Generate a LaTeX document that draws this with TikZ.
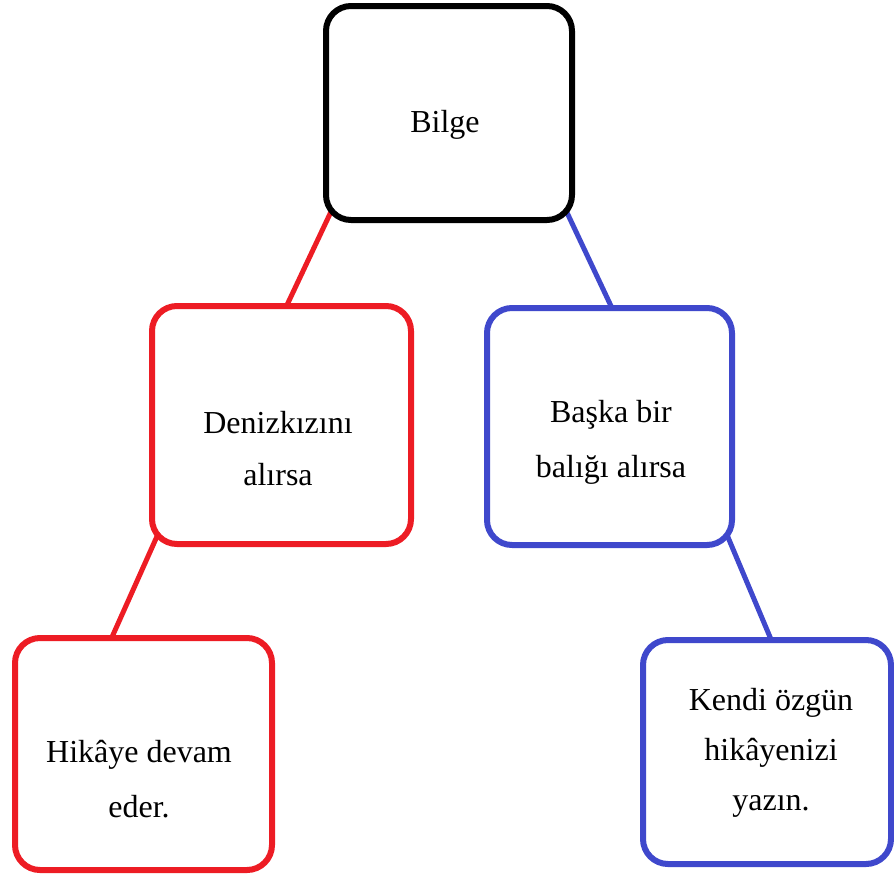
\documentclass[tikz,border=0pt]{standalone}
\usepackage{fontspec}
\setmainfont{Liberation Serif}
\usetikzlibrary{backgrounds}
\definecolor{pred}{HTML}{ED1C24}
\definecolor{pblue}{HTML}{3F48CC}
\begin{document}
\begin{tikzpicture}[x=1pt,y=-1pt,
  box/.style={draw, fill=white, rounded corners=25pt, line width=6pt, inner sep=0pt, outer sep=0pt},
  conn/.style={line width=5pt},
  txt/.style={anchor=base, inner sep=0pt, font=\fontsize{32}{36}\selectfont}]
\useasboundingbox (0,0) rectangle (894,876);
% boxes
\node[box, draw=black, minimum width=246pt, minimum height=214pt] (root) at (449,113) {};
\node[box, draw=pred, minimum width=259pt, minimum height=238pt] (left) at (281.5,425) {};
\node[box, draw=pblue, minimum width=245pt, minimum height=237pt] (right) at (609.5,426.5) {};
\node[box, draw=pred, minimum width=257pt, minimum height=232pt] (ll) at (143.5,754) {};
\node[box, draw=pblue, minimum width=248pt, minimum height=224pt] (rr) at (767,752) {};
% connectors (behind boxes)
\begin{pgfonlayer}{background}
\draw[conn, pred] ([shift={(19,-38)}]root.south west) -- ([shift={(-2.5,16)}]left.north);
\draw[conn, pblue] ([shift={(-18,-35)}]root.south east) -- ([shift={(9.5,15)}]right.north);
\draw[conn, pred] ([shift={(19,-39)}]left.south west) -- ([shift={(-39.5,17)}]ll.north);
\draw[conn, pblue] ([shift={(-18,-41)}]right.south east) -- ([shift={(11,16)}]rr.north);
\end{pgfonlayer}
% texts
\node[txt] (t0) at (445,132) {Bilge};
\node[txt] (t1a) at (278,433) {Denizkızını};
\node[txt] (t1b) at (278,485) {alırsa};
\node[txt] (t2a) at (611,422) {Başka bir};
\node[txt] (t2b) at (611,477) {balığı alırsa};
\node[txt] (t3a) at (139,762) {Hikâye devam};
\node[txt] (t3b) at (139,817) {eder.};
\node[txt] (t4a) at (771,710) {Kendi özgün};
\node[txt] (t4b) at (771,760) {hikâyenizi};
\node[txt] (t4c) at (771,810) {yazın.};
\end{tikzpicture}
\end{document}
